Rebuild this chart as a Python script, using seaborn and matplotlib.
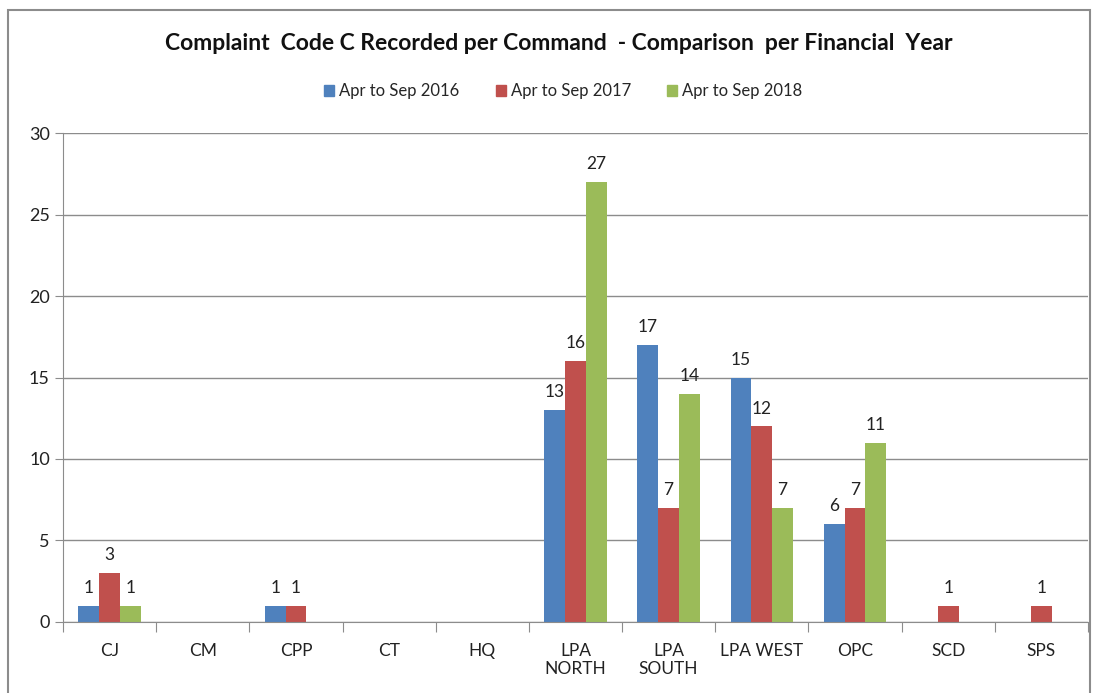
import matplotlib
matplotlib.use("Agg")
import matplotlib.pyplot as plt
import seaborn as sns
import pandas as pd

# Chart data
commands = ["CJ", "CM", "CPP", "CT", "HQ", "LPA\nNORTH", "LPA\nSOUTH", "LPA WEST", "OPC", "SCD", "SPS"]
periods = ["Apr to Sep 2016", "Apr to Sep 2017", "Apr to Sep 2018"]
y2016 = [1, 0, 1, 0, 0, 13, 17, 15, 6, 0, 0]
y2017 = [3, 0, 1, 0, 0, 16, 7, 12, 7, 1, 1]
y2018 = [1, 0, 0, 0, 0, 27, 14, 7, 11, 0, 0]
colors = ["#4F81BD", "#C0504D", "#9BBB59"]

rows = []
for period, vals in zip(periods, [y2016, y2017, y2018]):
    for cmd, v in zip(commands, vals):
        rows.append({"command": cmd, "period": period, "count": v})
df = pd.DataFrame(rows)

sns.set_style("white")
plt.rcParams["font.family"] = ["Lato", "DejaVu Sans"]

fig = plt.figure(figsize=(11, 6.93), dpi=100)
ax = fig.add_axes([0.0573, 0.1025, 0.9317, 0.7055])

sns.barplot(data=df, x="command", y="count", hue="period", order=commands,
            hue_order=periods, palette=colors, width=0.67, saturation=1,
            edgecolor="none", legend=False, ax=ax)

# value labels, skip zeros
for cont, vals in zip(ax.containers, [y2016, y2017, y2018]):
    labels = [str(v) if v > 0 else "" for v in vals]
    ax.bar_label(cont, labels=labels, padding=7, fontsize=12.5, color="#222222")

ax.set_ylim(0, 30)
ax.set_xlim(-0.5, len(commands) - 0.5)
ax.set_yticks(range(0, 31, 5))
ax.yaxis.grid(True, color="#8c8c8c", linewidth=1)
ax.set_axisbelow(True)
ax.set_xlabel("")
ax.set_ylabel("")

for s in ["top", "right"]:
    ax.spines[s].set_visible(False)
ax.spines["left"].set_color("#8c8c8c")
ax.spines["bottom"].set_color("#8c8c8c")

# category ticks between groups
ax.set_xticks([i - 0.5 for i in range(len(commands) + 1)], minor=False)
ax.set_xticklabels([])
ax.set_xticks(range(len(commands)), minor=True)
ax.set_xticklabels(commands, minor=True, fontsize=12.5, color="#222222")
ax.tick_params(axis="x", which="major", length=7, color="#8c8c8c", direction="out", bottom=True)
ax.tick_params(axis="x", which="minor", length=0, pad=15)
ax.tick_params(axis="y", length=6, color="#8c8c8c", direction="out", left=True,
               labelsize=13, labelcolor="#222222")

# legend
handles = [plt.Rectangle((0, 0), 1, 1, color=c) for c in colors]
fig.legend(handles, periods, loc="center", bbox_to_anchor=(0.512, 0.868), ncol=3,
           frameon=False, fontsize=12, handlelength=0.6, handleheight=0.6,
           handletextpad=0.3, columnspacing=2.2)

fig.text(0.508, 0.937, "Complaint  Code C Recorded per Command  - Comparison  per Financial  Year",
         ha="center", va="center", fontsize=16.5, fontweight="bold", color="#111111")

# outer chart border
fig.patches.append(plt.Rectangle((0.0073, -0.01), 0.984, 0.996, transform=fig.transFigure,
                                 fill=False, edgecolor="#8c8c8c", linewidth=1.5))

fig.savefig("out.png", dpi=100)
